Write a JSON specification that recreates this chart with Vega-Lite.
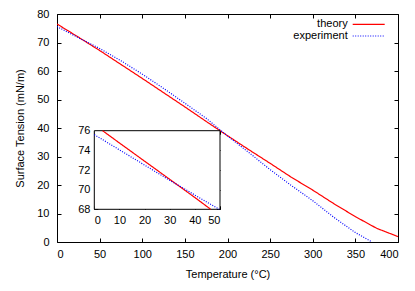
{
  "$schema": "https://vega.github.io/schema/vega-lite/v6.json",
  "width": 341,
  "height": 228,
  "autosize": {"type": "none"},
  "padding": {"left": 57, "top": 14, "right": 17, "bottom": 49},
  "config": {
    "font": "Liberation Sans",
    "view": {"stroke": "black", "strokeWidth": 1},
    "axis": {
      "grid": false,
      "domainColor": "black",
      "tickColor": "black",
      "labelColor": "black",
      "titleColor": "black",
      "labelFont": "Liberation Sans",
      "titleFont": "Liberation Sans",
      "labelFontSize": 11,
      "titleFontSize": 11,
      "titleFontWeight": "normal",
      "zindex": 1
    }
  },
  "datasets": {
    "main": [
      {"T": 0, "v": 76.5, "series": "theory"},
      {"T": 25, "v": 71.9, "series": "theory"},
      {"T": 50, "v": 67.2, "series": "theory"},
      {"T": 75, "v": 62.3, "series": "theory"},
      {"T": 100, "v": 57.4, "series": "theory"},
      {"T": 125, "v": 52.4, "series": "theory"},
      {"T": 150, "v": 47.4, "series": "theory"},
      {"T": 175, "v": 42.3, "series": "theory"},
      {"T": 200, "v": 37.3, "series": "theory"},
      {"T": 225, "v": 32.4, "series": "theory"},
      {"T": 250, "v": 27.6, "series": "theory"},
      {"T": 275, "v": 22.7, "series": "theory"},
      {"T": 300, "v": 18.2, "series": "theory"},
      {"T": 325, "v": 13.4, "series": "theory"},
      {"T": 350, "v": 8.9, "series": "theory"},
      {"T": 375, "v": 4.8, "series": "theory"},
      {"T": 400, "v": 1.9, "series": "theory"},
      {"T": 0, "v": 75.6, "series": "experiment"},
      {"T": 25, "v": 71.7, "series": "experiment"},
      {"T": 50, "v": 67.9, "series": "experiment"},
      {"T": 75, "v": 63.6, "series": "experiment"},
      {"T": 100, "v": 58.9, "series": "experiment"},
      {"T": 125, "v": 53.9, "series": "experiment"},
      {"T": 150, "v": 48.7, "series": "experiment"},
      {"T": 175, "v": 43.4, "series": "experiment"},
      {"T": 200, "v": 37.2, "series": "experiment"},
      {"T": 225, "v": 31.4, "series": "experiment"},
      {"T": 250, "v": 25.4, "series": "experiment"},
      {"T": 275, "v": 19.8, "series": "experiment"},
      {"T": 300, "v": 14.5, "series": "experiment"},
      {"T": 325, "v": 8.6, "series": "experiment"},
      {"T": 350, "v": 3.3, "series": "experiment"},
      {"T": 369.5, "v": 0, "series": "experiment"}
    ],
    "inset": [
      {"T": 3.3, "v": 76.0, "series": "theory"},
      {"T": 10, "v": 74.75, "series": "theory"},
      {"T": 20, "v": 72.9, "series": "theory"},
      {"T": 30, "v": 71.05, "series": "theory"},
      {"T": 40, "v": 69.2, "series": "theory"},
      {"T": 46.3, "v": 68.0, "series": "theory"},
      {"T": 0, "v": 75.6, "series": "experiment"},
      {"T": 10, "v": 74.05, "series": "experiment"},
      {"T": 20, "v": 72.5, "series": "experiment"},
      {"T": 30, "v": 70.95, "series": "experiment"},
      {"T": 40, "v": 69.45, "series": "experiment"},
      {"T": 49.7, "v": 68.0, "series": "experiment"}
    ],
    "box": [
      {"x0": 0, "x1": 50, "y0": 68, "y1": 76}
    ]
  },
  "layer": [
    {
      "data": {"name": "main"},
      "mark": {"type": "line", "strokeWidth": 1.2, "clip": true},
      "encoding": {
        "x": {
          "field": "T", "type": "quantitative",
          "scale": {"domain": [0, 400], "nice": false, "zero": false},
          "axis": {"orient": "bottom", "values": [0, 50, 100, 150, 200, 250, 300, 350, 400], "title": "Temperature (°C)", "tickSize": -4, "labelPadding": 10, "titlePadding": 9, "domain": false}
        },
        "y": {
          "field": "v", "type": "quantitative",
          "scale": {"domain": [0, 80], "nice": false, "zero": false},
          "axis": {"orient": "left", "values": [0, 10, 20, 30, 40, 50, 60, 70, 80], "title": "Surface Tension (mN/m)", "tickSize": -4, "labelPadding": 12, "titlePadding": 11.5, "domain": false}
        },
        "color": {
          "field": "series", "type": "nominal",
          "scale": {"domain": ["theory", "experiment"], "range": ["#ff0000", "#0000ff"]},
          "legend": {"title": null, "values": ["theory"], "orient": "none", "legendX": 294.7, "legendY": -6.6, "symbolType": "stroke", "symbolSize": 1024, "symbolStrokeWidth": 1.2, "labelAlign": "right", "labelOffset": -38, "labelFontSize": 11, "labelColor": "black"}
        },
        "strokeDash": {
          "field": "series", "type": "nominal",
          "scale": {"domain": ["experiment", "theory"], "range": [[1, 1.5], [1, 0]]},
          "legend": {"title": null, "values": ["experiment"], "orient": "none", "legendX": 294.7, "legendY": 5.0, "symbolType": "stroke", "symbolSize": 1024, "symbolStrokeWidth": 1.2, "symbolStrokeColor": "#0000ff", "labelAlign": "right", "labelOffset": -38, "labelFontSize": 11, "labelColor": "black"}
        }
      }
    },
    {
      "data": {"name": "main"},
      "mark": {"type": "line", "opacity": 0},
      "encoding": {
        "x": {
          "field": "T", "type": "quantitative",
          "scale": {"domain": [0, 400], "nice": false, "zero": false},
          "axis": {"orient": "top", "values": [0, 50, 100, 150, 200, 250, 300, 350, 400], "title": null, "labels": false, "tickSize": -4, "domain": false}
        },
        "y": {
          "field": "v", "type": "quantitative",
          "scale": {"domain": [0, 80], "nice": false, "zero": false},
          "axis": {"orient": "right", "values": [0, 10, 20, 30, 40, 50, 60, 70, 80], "title": null, "labels": false, "tickSize": -4, "domain": false}
        }
      }
    },
    {
      "data": {"name": "box"},
      "mark": {"type": "rect", "fill": "white", "stroke": "black", "strokeWidth": 1},
      "encoding": {
        "x": {
          "field": "x0", "type": "quantitative",
          "scale": {"domain": [0, 50], "range": [37.3, 163], "nice": false, "zero": false},
          "axis": {"orient": "bottom", "offset": -32.7, "values": [0, 10, 20, 30, 40, 50], "title": null, "tickSize": -3.5, "labelPadding": 8.9, "domain": false}
        },
        "x2": {"field": "x1"},
        "y": {
          "field": "y0", "type": "quantitative",
          "scale": {"domain": [68, 76], "range": [195.3, 116.7], "nice": false, "zero": false},
          "axis": {"orient": "left", "offset": -37.3, "values": [68, 70, 72, 74, 76], "title": null, "tickSize": -3.5, "labelPadding": 7.8, "domain": false}
        },
        "y2": {"field": "y1"}
      }
    },
    {
      "data": {"name": "inset"},
      "mark": {"type": "line", "strokeWidth": 1.2},
      "encoding": {
        "x": {
          "field": "T", "type": "quantitative",
          "scale": {"domain": [0, 50], "range": [37.3, 163], "nice": false, "zero": false},
          "axis": {"orient": "top", "offset": -116.7, "values": [0, 10, 20, 30, 40, 50], "title": null, "labels": false, "tickSize": -3.5, "domain": false}
        },
        "y": {
          "field": "v", "type": "quantitative",
          "scale": {"domain": [68, 76], "range": [195.3, 116.7], "nice": false, "zero": false},
          "axis": {"orient": "right", "offset": -178, "values": [68, 70, 72, 74, 76], "title": null, "labels": false, "tickSize": -3.5, "domain": false}
        },
        "color": {
          "field": "series", "type": "nominal",
          "scale": {"domain": ["theory", "experiment"], "range": ["#ff0000", "#0000ff"]}
        },
        "strokeDash": {
          "field": "series", "type": "nominal",
          "scale": {"domain": ["experiment", "theory"], "range": [[1, 1.5], [1, 0]]}
        }
      }
    }
  ],
  "resolve": {"scale": {"x": "independent", "y": "independent"}}
}
